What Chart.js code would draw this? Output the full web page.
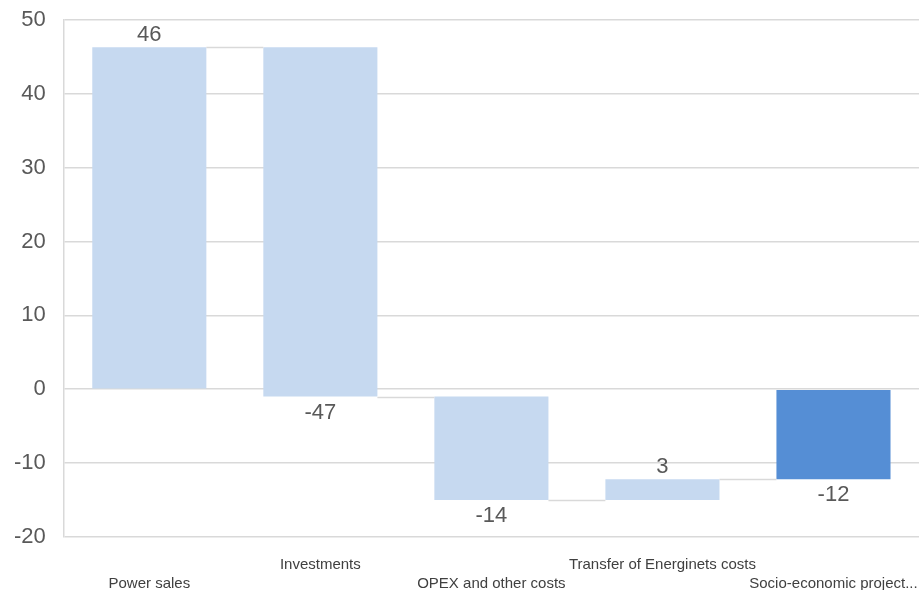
<!DOCTYPE html>
<html lang="en">
<head>
    <meta charset="UTF-8">
    <title>Waterfall</title>
    <script src="https://cdn.jsdelivr.net/npm/chart.js"></script>
    <style>
        body { margin: 0; background: #fff; }
        .box { width: 923px; height: 590px; }
    </style>
</head>
<body>
<div class="box"><canvas id="myChart"></canvas></div>
<script>
    // categories + staggered label rows (like Excel does when labels don't fit)
    const categories = ['Power sales', 'Investments', 'OPEX and other costs', 'Transfer of Energinets costs', 'Socio-economic project...'];
    const steps = [46.3, -47.3, -14.0, 2.8];   // changes
    const total = -12.2;                        // final bar
    const yTicks = [-20, -10, 0, 10, 20, 30, 40, 50];

    const lightBlue = '#c6d9f0';
    const darkBlue = '#558ed5';

    // build floating bars [start, end]
    let run = 0;
    const ranges = [];
    const ends = [];
    steps.forEach(function(s){
        ranges.push([run, run + s]);
        run = run + s;
        ends.push(run);
    });
    ranges.push([0, total]);
    ends.push(total);
    const shown = steps.concat([total]);

    const labels = categories.map(function(c, i){
        return i % 2 == 0 ? ['', c] : [c, ''];
    });

    const waterfallExtras = {
        id: 'waterfallExtras',
        afterDatasetsDraw(chart) {
            const ctx = chart.ctx;
            const meta = chart.getDatasetMeta(0);
            const y = chart.scales.y;
            ctx.save();
            // connector lines
            ctx.strokeStyle = '#d9d9d9';
            ctx.lineWidth = 1.5;
            for (let i = 0; i < meta.data.length - 1; i++) {
                const a = meta.data[i], b = meta.data[i + 1];
                const py = Math.round(y.getPixelForValue(ends[i])) + 0.5;
                ctx.beginPath();
                ctx.moveTo(a.x + a.width / 2, py);
                ctx.lineTo(b.x - b.width / 2, py);
                ctx.stroke();
            }
            // value labels
            ctx.fillStyle = '#595959';
            ctx.font = '22px "Liberation Sans", Arial, sans-serif';
            ctx.textAlign = 'center';
            meta.data.forEach(function(bar, i){
                const v = shown[i];
                const top = Math.min(bar.y, bar.base);
                const bottom = Math.max(bar.y, bar.base);
                if (v >= 0) {
                    ctx.textBaseline = 'bottom';
                    ctx.fillText(Math.round(v), bar.x, top - 1);
                } else {
                    ctx.textBaseline = 'top';
                    ctx.fillText(Math.round(v), bar.x, bottom + 5);
                }
            });
            ctx.restore();
        }
    };

    new Chart(document.getElementById('myChart'), {
        type: 'bar',
        data: {
            labels: labels,
            datasets: [{
                data: ranges,
                backgroundColor: ranges.map(function(r, i){ return i == ranges.length - 1 ? darkBlue : lightBlue; }),
                borderWidth: 0,
                barPercentage: 0.667,
                categoryPercentage: 1
            }]
        },
        options: {
            responsive: true,
            maintainAspectRatio: false,
            animation: false,
            layout: { padding: { top: 20, right: 4, left: 14, bottom: -3 } },
            plugins: {
                legend: { display: false },
                tooltip: { enabled: false }
            },
            scales: {
                x: {
                    // tickLength used as gap under the plot (ticks.padding adds extra space)
                    grid: { display: false, drawTicks: true, tickLength: 18 },
                    border: { display: false },
                    ticks: {
                        autoSkip: false,
                        maxRotation: 0,
                        padding: 0,
                        color: '#404040',
                        font: { family: '"Liberation Sans", Arial, sans-serif', size: 15, lineHeight: 1.27 }
                    }
                },
                y: {
                    min: -20,
                    max: 50,
                    afterBuildTicks: function(axis){
                        axis.ticks = yTicks.map(function(v){ return { value: v }; });
                    },
                    grid: { color: '#d9d9d9', lineWidth: 1.5, drawTicks: true, tickLength: 18, tickColor: 'rgba(0,0,0,0)' },
                    border: { display: true, color: '#d9d9d9', width: 1.5 },
                    ticks: {
                        padding: 0,
                        color: '#595959',
                        font: { family: '"Liberation Sans", Arial, sans-serif', size: 22 }
                    }
                }
            }
        },
        plugins: [waterfallExtras]
    });
</script>
</body>
</html>
